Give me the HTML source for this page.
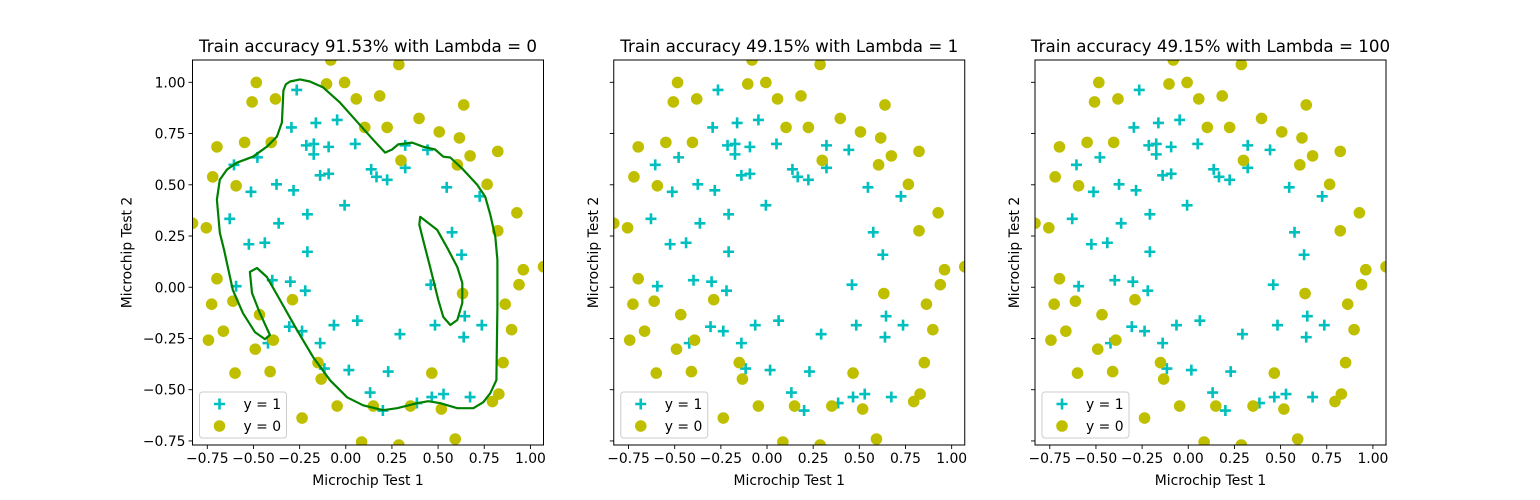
<!DOCTYPE html>
<html><head><meta charset="utf-8"><style>
html,body{margin:0;padding:0;background:#fff;}
svg{display:block;font-family:"DejaVu Sans","Liberation Sans",sans-serif;}
</style></head><body>
<svg id="fig" width="1540" height="500" viewBox="0 0 1540 500"></svg>
<script>
const x1 = [0.051267,-0.092742,-0.21371,-0.375,-0.51325,-0.52477,-0.39804,-0.30588,0.016705,0.13191,0.38537,0.52938,0.63882,0.73675,0.54666,0.322,0.16647,-0.046659,-0.17339,-0.47869,-0.60541,-0.62846,-0.59389,-0.42108,-0.11578,0.20104,0.46601,0.67339,-0.13882,-0.29435,-0.26555,-0.16187,-0.17339,-0.28283,-0.36348,-0.30012,-0.23675,-0.06394,0.062788,0.22984,0.2932,0.48329,0.64459,0.46025,0.6273,0.57546,0.72523,0.22408,0.44297,0.322,0.13767,-0.0063364,-0.092742,-0.20795,-0.20795,-0.43836,-0.21947,-0.13882];
const y1 = [0.69956,0.68494,0.69225,0.50219,0.46564,0.2098,0.034357,-0.19225,-0.40424,-0.51389,-0.56506,-0.5212,-0.24342,-0.18494,0.48757,0.5826,0.53874,0.81652,0.69956,0.63377,0.59722,0.33406,0.005117,-0.27266,-0.39693,-0.60161,-0.53582,-0.53582,0.54605,0.77997,0.96272,0.8019,0.64839,0.47295,0.31213,0.027047,-0.21418,-0.18494,-0.16301,-0.41155,-0.2288,-0.18494,-0.14108,0.012427,0.15863,0.26827,0.44371,0.52412,0.67032,0.69225,0.57529,0.39985,0.55336,0.35599,0.17325,0.21711,-0.016813,-0.27266];
const x0 = [0.18376,0.22408,0.29896,0.50634,0.61578,0.60426,0.76555,0.92684,0.82316,0.96141,0.93836,0.86348,0.89804,0.85196,0.82892,0.79435,0.59274,0.51786,0.46601,0.35081,0.28744,0.085829,0.14919,-0.13306,-0.40956,-0.39228,-0.74366,-0.69758,-0.75518,-0.69758,-0.4038,-0.38076,-0.50749,-0.54781,0.10311,0.057028,-0.10426,-0.081221,0.28744,0.39689,0.63882,0.82316,0.67339,1.0709,-0.046659,-0.23675,-0.15035,-0.49021,-0.46717,-0.28859,-0.61118,-0.66302,-0.59965,-0.72638,-0.83007,-0.72062,-0.59389,-0.48445,-0.0063364,0.63265];
const y0 = [0.93348,0.77997,0.61915,0.75804,0.7288,0.59722,0.50219,0.3633,0.27558,0.085526,0.012427,-0.082602,-0.20687,-0.36769,-0.5212,-0.55775,-0.7405,-0.5943,-0.41886,-0.57968,-0.76974,-0.75512,-0.57968,-0.4481,-0.41155,-0.25804,-0.25804,0.041667,0.2902,0.68494,0.70687,0.91886,0.90424,0.70687,0.77997,0.91886,0.99196,1.1089,1.087,0.82383,0.88962,0.66301,0.64108,0.10015,-0.57968,-0.63816,-0.36769,-0.3019,-0.13377,-0.060673,-0.067982,-0.21418,-0.41886,-0.082602,0.31213,0.53874,0.49488,0.99927,0.99927,-0.030612];
const titles = ["Train accuracy 91.53% with Lambda = 0","Train accuracy 49.15% with Lambda = 1","Train accuracy 49.15% with Lambda = 100"];
const ticks = [-0.75,-0.5,-0.25,0,0.25,0.5,0.75,1.0];
const tickLabels = ["\u22120.75","\u22120.50","\u22120.25","0.00","0.25","0.50","0.75","1.00"];
const boundaryOuterX = [-0.338,-0.325,-0.302,-0.248,-0.194,-0.123,-0.031,0.061,0.148,0.213,0.251,0.284,0.360,0.419,0.484,0.528,0.566,0.636,0.712,0.755,0.783,0.810,0.821,0.821,0.816,0.783,0.745,0.691,0.604,0.512,0.447,0.387,0.278,0.202,0.094,0.007,-0.085,-0.177,-0.264,-0.356,-0.427,-0.481,-0.519,-0.508,-0.465,-0.411,-0.438,-0.492,-0.557,-0.612,-0.644,-0.659,-0.682,-0.698,-0.682,-0.644,-0.590,-0.503,-0.427,-0.373,-0.346,-0.340];
const boundaryOuterY = [0.960,0.990,1.004,1.014,1.004,0.975,0.901,0.808,0.720,0.657,0.672,0.697,0.706,0.686,0.672,0.637,0.633,0.574,0.500,0.442,0.354,0.246,0.134,-0.096,-0.453,-0.517,-0.561,-0.590,-0.590,-0.566,-0.556,-0.566,-0.590,-0.600,-0.576,-0.537,-0.454,-0.341,-0.209,-0.062,0.050,0.094,0.075,-0.028,-0.126,-0.233,-0.253,-0.219,-0.126,-0.013,0.119,0.182,0.266,0.427,0.525,0.574,0.608,0.637,0.686,0.735,0.804,0.916];
const boundaryInnerX = [0.403,0.495,0.550,0.604,0.631,0.631,0.604,0.566,0.528,0.501,0.457,0.419,0.398,0.403];
const boundaryInnerY = [0.344,0.280,0.192,0.099,0.021,-0.077,-0.160,-0.184,-0.145,-0.062,0.099,0.231,0.305,0.344];

const NS="http://www.w3.org/2000/svg";
const fig=document.getElementById('fig');
function mk(tag,attrs,parent){const e=document.createElementNS(NS,tag);for(const k in attrs)e.setAttribute(k,attrs[k]);(parent||fig).appendChild(e);return e;}
const XMIN=-0.83007,XMAX=1.0709,YMIN=-0.76974,YMAX=1.1089;
const panelLefts=[192.5,613.75,1035];
const PW=351,TOP=60,BOT=445;
const CY="#00bfbf",OL="#bfbf00";
function plus(g,cx,cy,col){const p=mk('path',{d:`M${cx-5.5},${cy}H${cx+5.5}M${cx},${cy-5.5}V${cy+5.5}`,stroke:col,'stroke-width':2.6,fill:'none'},g);return p;}
function dot(g,cx,cy,col){const c=mk('circle',{cx:cx,cy:cy,r:5.8,fill:col},g);return c;}

panelLefts.forEach((L,pi)=>{
  const sx=v=>L+(v-XMIN)/(XMAX-XMIN)*PW;
  const sy=v=>BOT-(v-YMIN)/(YMAX-YMIN)*(BOT-TOP);
  const g=mk('g',{});
  
  
  const clipId='clip'+pi;
  const cp=mk('clipPath',{id:clipId},g);mk('rect',{x:L,y:TOP,width:PW,height:BOT-TOP},cp);
  const data=mk('g',{'clip-path':`url(#${clipId})`},g);
  
  
  for(let i=0;i<x1.length;i++)plus(data,sx(x1[i]),sy(y1[i]),CY);
  for(let i=0;i<x0.length;i++)dot(data,sx(x0[i]),sy(y0[i]),OL);
  if(pi===0){
    const pth=(xs,ys)=>xs.map((v,i)=>(i?'L':'M')+sx(v).toFixed(1)+','+sy(ys[i]).toFixed(1)).join('')+'Z';
    const b1=mk('path',{d:pth(boundaryOuterX,boundaryOuterY),stroke:'#008000','stroke-width':2.2,fill:'none','stroke-linejoin':'round'},data);
    
    
    const b2=mk('path',{d:pth(boundaryInnerX,boundaryInnerY),stroke:'#008000','stroke-width':2.2,fill:'none','stroke-linejoin':'round'},data);
    
    
  }
  const fr=mk('rect',{x:L,y:TOP,width:PW,height:BOT-TOP,fill:'none',stroke:'#000','stroke-width':1},g);
  
  
  ticks.forEach((t,i)=>{
    const X=sx(t);
    mk('line',{x1:X,x2:X,y1:BOT,y2:BOT+4,stroke:'#000','stroke-width':0.9},g);
    const tx=mk('text',{x:X,y:BOT+18,'font-size':13.9,'text-anchor':'middle',fill:'#000'},g);tx.textContent=tickLabels[i];
    
    
    const Y=sy(t);
    mk('line',{x1:L-4,x2:L,y1:Y,y2:Y,stroke:'#000','stroke-width':0.9},g);
    if(pi===0){const ty=mk('text',{x:L-7,y:Y+5,'font-size':13.9,'text-anchor':'end',fill:'#000'},g);ty.textContent=tickLabels[i];
      
      }
  });
  const xl=mk('text',{x:L+PW/2,y:485,'font-size':13.9,'text-anchor':'middle'},g);xl.textContent='Microchip Test 1';
  
  
  const yx=pi===0?L-61:L-16;
  const yl=mk('text',{x:yx,y:(TOP+BOT)/2,'font-size':13.9,'text-anchor':'middle',transform:`rotate(-90 ${yx} ${(TOP+BOT)/2})`},g);yl.textContent='Microchip Test 2';
  
  
  const ti=mk('text',{x:L+PW/2,y:TOP-8,'font-size':16.7,'text-anchor':'middle'},g);ti.textContent=titles[pi];
  
  
  const lg=mk('g',{},g);
  
  
  mk('rect',{x:L+7,y:BOT-53,width:87,height:46,rx:3,fill:'#fff','fill-opacity':0.8,stroke:'#ccc'},lg);
  plus(lg,L+27,BOT-41,CY);
  dot(lg,L+27,BOT-19,OL);
  const l1=mk('text',{x:L+51,y:BOT-36,'font-size':13.9},lg);l1.textContent='y = 1';
  
  
  const l2=mk('text',{x:L+51,y:BOT-14,'font-size':13.9},lg);l2.textContent='y = 0';
  
  
});
</script>
</body></html>
